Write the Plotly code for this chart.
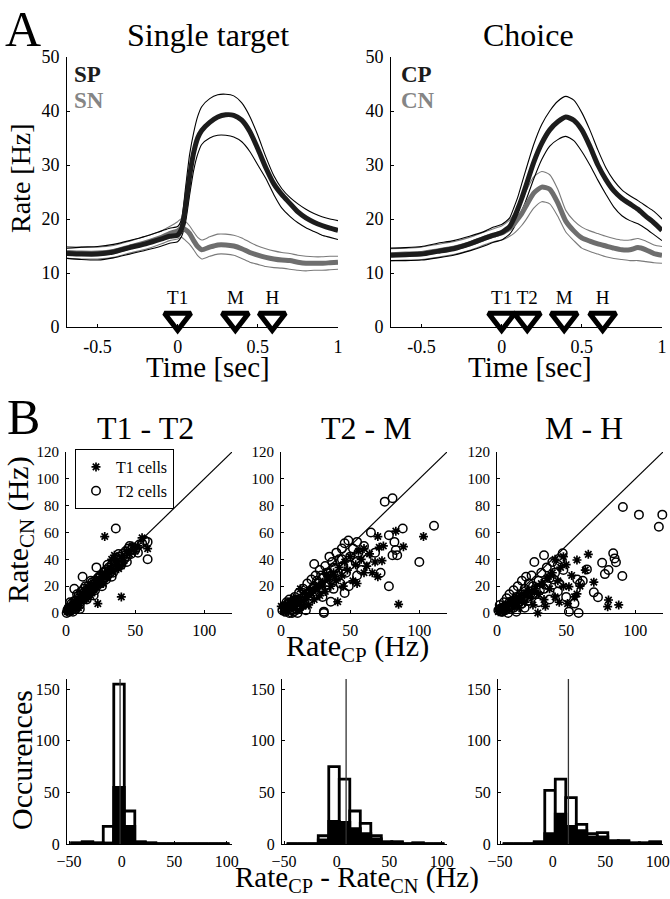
import plotly.graph_objects as go

W, H = 670, 899
FONT = "Liberation Serif"

# ---------------- Panel A data (rate in Hz vs time in s) ----------------
time_s = [-0.69, -0.6, -0.5, -0.4, -0.3, -0.2, -0.1, -0.05, 0.0, 0.025, 0.05, 0.075,
          0.1, 0.125, 0.15, 0.2, 0.25, 0.3, 0.35, 0.4, 0.45, 0.5, 0.55, 0.6, 0.65,
          0.7, 0.75, 0.8, 0.85, 0.9, 0.95, 1.0]

sp_mean = [13.6, 13.5, 13.5, 13.9, 14.7, 15.4, 16.3, 16.8, 17.0, 18.2, 22.5, 28.0,
           32.3, 35.0, 36.4, 37.9, 38.9, 39.3, 39.2, 38.3, 36.2, 33.0, 29.5, 26.5, 24.5,
           22.9, 21.3, 20.2, 19.4, 18.8, 18.3, 17.9]
sp_hi = [14.6, 14.8, 14.9, 15.3, 16.0, 16.8, 17.8, 18.3, 18.6, 20.0, 26.0, 32.0,
         36.0, 39.0, 40.8, 42.3, 43.0, 43.1, 42.8, 41.5, 39.0, 35.5, 31.5, 28.0, 25.6,
         24.0, 22.8, 21.8, 21.0, 20.4, 20.0, 19.7]
sp_lo = [12.7, 12.5, 12.4, 12.8, 13.5, 14.2, 15.0, 15.5, 15.8, 16.8, 19.5, 24.5,
         29.0, 32.0, 33.8, 35.0, 35.5, 35.5, 35.2, 34.3, 32.5, 30.0, 27.5, 24.5, 22.0,
         20.5, 19.3, 18.4, 17.7, 17.0, 16.6, 16.2]
sn_mean = [13.8, 13.7, 13.7, 14.0, 14.8, 15.6, 16.6, 17.3, 17.8, 18.3, 18.0, 17.3,
           16.0, 14.9, 14.3, 14.8, 15.2, 15.2, 15.0, 14.5, 13.8, 13.3, 12.9, 12.6, 12.4,
           12.3, 12.0, 11.8, 11.8, 11.8, 11.9, 12.0]
sn_hi = [14.9, 14.8, 14.8, 15.1, 15.9, 16.8, 17.8, 18.6, 19.5, 20.1, 19.5, 18.7,
         17.6, 16.6, 16.1, 16.7, 17.2, 17.2, 17.0, 16.5, 15.7, 15.0, 14.5, 14.1, 13.8,
         13.6, 13.3, 13.1, 13.0, 13.0, 13.1, 13.1]
sn_lo = [12.7, 12.6, 12.6, 12.9, 13.7, 14.4, 15.4, 16.0, 16.3, 16.6, 16.0, 15.3,
         14.3, 13.2, 12.6, 13.1, 13.5, 13.5, 13.3, 12.7, 12.0, 11.6, 11.2, 11.0, 10.9,
         10.7, 10.5, 10.4, 10.5, 10.5, 10.6, 10.7]

cp_mean = [13.3, 13.4, 13.5, 14.0, 14.5, 15.4, 16.5, 17.0, 17.5, 18.0, 18.6, 20.0,
           21.8, 23.8, 26.0, 30.5, 34.0, 36.5, 38.0, 38.9, 38.3, 36.5, 33.5, 30.0, 27.3,
           25.2, 23.8, 22.8, 21.8, 20.5, 19.3, 17.9]
cp_hi = [14.6, 14.7, 14.9, 15.5, 16.0, 16.8, 17.8, 18.5, 19.0, 19.5, 20.2, 22.0,
         24.0, 26.5, 29.0, 33.8, 37.5, 40.0, 41.8, 42.7, 42.0, 39.7, 36.5, 32.8, 29.5,
         27.1, 25.4, 24.3, 23.4, 22.4, 21.4, 20.0]
cp_lo = [12.3, 12.3, 12.4, 12.8, 13.3, 14.1, 15.1, 15.7, 16.1, 16.6, 17.2, 18.3,
         19.8, 21.5, 23.3, 27.4, 31.0, 33.5, 34.7, 35.3, 34.5, 32.5, 30.0, 27.2, 24.6,
         22.2, 20.6, 19.7, 19.1, 18.2, 17.1, 16.0]
cn_mean = [13.4, 13.5, 13.6, 14.1, 14.6, 15.4, 16.5, 17.0, 17.4, 17.8, 18.3, 19.0,
           20.0, 21.0, 22.3, 24.8, 25.9, 25.5, 23.0, 19.6, 17.8, 16.5, 15.9, 15.4, 15.0,
           14.6, 14.3, 14.3, 14.7, 14.3, 13.6, 13.3]
cn_hi = [14.5, 14.6, 14.8, 15.3, 15.8, 16.6, 17.7, 18.2, 18.7, 19.2, 19.8, 20.8,
         22.0, 23.3, 25.0, 27.8, 28.8, 28.2, 25.5, 21.6, 19.7, 18.5, 17.8, 17.3, 16.8,
         16.4, 16.1, 16.1, 16.4, 15.9, 15.2, 14.9]
cn_lo = [12.3, 12.4, 12.5, 12.9, 13.4, 14.2, 15.3, 15.8, 16.1, 16.4, 16.8, 17.3,
         18.0, 18.8, 19.8, 22.0, 23.2, 22.8, 20.5, 17.6, 16.0, 14.6, 14.0, 13.5, 13.0,
         12.7, 12.5, 12.3, 12.3, 12.1, 11.9, 11.8]

ev_single_labels = ["T1", "M", "H"]
ev_single_t = [0.0, 0.36, 0.59]
ev_choice_labels = ["T1", "T2", "M", "H"]
ev_choice_t = [0.0, 0.16, 0.39, 0.63]

# ---------------- Panel B scatter data (RateCP, RateCN) ----------------
t1t2_t2_x = [1, 2, 3, 4, 5, 6, 6, 7, 8, 9, 10, 11, 12, 12, 13, 14, 15, 16, 17, 18, 19, 20, 21, 22, 22,
             23, 24, 25, 26, 27, 28, 29, 30, 31, 32, 33, 34, 35, 36, 36, 37, 38, 39, 40, 41, 42, 43,
             44, 45, 46, 47, 48, 50, 52, 53, 55, 57, 59, 59, 3, 5, 8, 10, 14, 18, 20, 26, 30, 33, 38, 44,
             2, 4, 6, 9, 11, 13, 16, 19, 24, 28, 0.5, 1.5, 7, 10, 15, 21, 25, 29, 34, 40]
t1t2_t2_y = [2, 1, 4, 2, 6, 4, 18, 9, 5, 11, 8, 13, 10, 27, 15, 12, 17, 14, 19, 16, 21, 18, 24, 34, 20,
             26, 22, 28, 24, 30, 26, 32, 28, 34, 30, 36, 33, 38, 35, 63, 40, 36, 42, 38, 44, 40, 46,
             42, 48, 50, 44, 49, 47, 45, 51, 52, 54, 53, 40, 8, 1, 14, 3, 20, 24, 13, 20, 36, 27, 44, 38,
             4, 7, 9, 13, 16, 18, 20, 23, 27, 31, 0, 3, 3, 6, 10, 17, 22, 25, 30, 36]
t1t2_t1_x = [1, 2, 3, 4, 5, 6, 7, 8, 9, 10, 11, 12, 13, 14, 15, 16, 17, 18, 19, 20, 21, 22, 23, 24,
             25, 26, 28, 28, 30, 32, 34, 35, 36, 38, 40, 40, 42, 44, 46, 48, 50, 55, 59, 52, 27, 18,
             9, 15, 33, 40, 3, 6, 11, 14, 17, 20, 23, 26, 29, 31, 37]
t1t2_t1_y = [1, 3, 1, 5, 3, 7, 5, 9, 7, 12, 9, 14, 11, 16, 13, 18, 15, 20, 17, 22, 19, 25, 7, 22,
             27, 23, 57, 30, 27, 34, 31, 43, 38, 33, 12, 42, 39, 46, 44, 50, 46, 56, 48, 50, 22, 13,
             4, 10, 40, 35, 2, 5, 10, 13, 16, 18, 21, 25, 28, 30, 35]

t2m_t2_x = [1, 2, 3, 4, 5, 6, 7, 8, 9, 10, 11, 12, 13, 14, 15, 16, 17, 18, 19, 20, 21, 22, 23, 24, 24,
            25, 26, 27, 28, 29, 30, 31, 31, 32, 33, 34, 35, 36, 36, 37, 38, 39, 40, 41, 42, 43, 44,
            45, 46, 47, 48.7, 49, 50, 52, 54, 55, 56, 58, 60, 62, 65, 68, 72, 75, 78, 78, 80.6,
            80.6, 82, 83, 84, 88, 100, 110.6, 55, 46, 30, 18, 12, 6,
            3, 5, 8, 11, 14, 17, 20, 23, 26, 29, 33, 38, 44, 50, 9, 13, 16]
t2m_t2_y = [2, 5, 1, 8, 3, 10, 4, 0, 6, 12, 3, 8, 15, 5, 11, 18, 7, 14, 22, 9, 16, 25, 12, 36.5, 20,
            28, 14, 22, 32, 18, 26, 1, 0, 35, 21, 30, 42, 8.4, 25, 38, 18, 33, 45, 28, 40, 22, 48,
            35, 52, 30, 54, 20, 42, 48, 38, 53, 45, 32, 50, 40, 60, 45, 30, 83, 58, 20, 85.5,
            43, 53, 47, 43, 63, 38, 65, 28, 15, 12, 2, 0, 0,
            4, 7, 2, 10, 9, 12, 15, 18, 24, 28, 30, 34, 40, 36, 1, 4, 6]
t2m_t1_x = [0.2, 2, 3, 5, 7, 8, 10, 12, 14, 15, 16, 18, 20, 22, 24, 26, 28, 30, 32, 34, 36, 38, 40,
            41, 42, 44, 46, 48, 50, 52, 54, 56, 58, 60, 62, 64, 66, 68, 70, 70, 71, 73, 74, 83, 85,
            88.5, 103, 25, 35, 45, 55, 60, 20, 10, 30, 4, 6, 9, 13, 17, 21, 27, 33, 39]
t2m_t1_y = [5, 1, 6, 2, 9, 4, 7, 2, 18, 9, 5, 12, 6, 15, 10, 19, 13, 23, 16, 27, 20, 30, 24,
            8.4, 34, 28, 38, 32, 42, 24, 36, 46, 40, 30, 35, 44, 30, 38, 27, 57, 49, 39, 50, 61, 6.5,
            49.4, 57, 18, 25, 20, 22, 48, 14, 10, 20, 3, 8, 11, 8, 10, 17, 20, 29, 27]

mh_t2_x = [1, 2, 3, 4, 5, 6, 7, 8, 9, 10, 11, 12, 13, 14, 15, 16, 17, 18, 19, 20, 21, 22, 23, 24, 25,
           26, 27, 28, 30, 32, 34, 34, 36, 38, 40, 42, 44, 45, 46, 47.5, 48, 50, 52, 56, 58, 59,
           60, 62, 65, 70, 73, 76, 78, 80.6, 84, 85, 86, 90.6, 91, 102.6, 117, 119.5, 38, 44, 30,
           20, 14, 8, 2, 4, 6, 9, 12, 15, 18, 22, 26, 31, 36, 41]
mh_t2_y = [2, 6, 1, 4, 8, 2, 11, 5, 14, 3, 9, 17, 6, 12, 20, 8, 14, 24, 10, 18, 27, 12, 22, 16, 28,
           20, 38, 14, 24, 30, 43, 18, 34, 26, 38, 30, 36, 22, 40, 44.5, 32, 12, 1, 7, 25, 0,
           22, 24, 32.5, 15.4, 11.7, 37.5, 29, 32, 44.5, 40.7, 37.8, 27.6, 79, 73.3, 64.3, 73.3,
           10, 16, 8, 4, 1, 0, 3, 1, 5, 8, 4, 10, 7, 9, 14, 17, 21, 25]
mh_t1_x = [1, 3, 4, 6, 8, 10, 12, 14, 16, 18, 20, 22, 24, 26, 28, 29.5, 30, 32, 34, 36, 38, 40, 42,
           44, 46, 48, 50, 51, 52, 54, 56, 57.8, 57.8, 60, 63.8, 66, 70, 80, 80.6, 88, 35, 45, 25,
           15, 42, 48, 5, 9, 13, 17, 21, 27, 33, 39]
mh_t1_y = [1, 4, 1, 6, 3, 9, 5, 11, 4, 14, 8, 17, 12, 6, 20, 0, 14, 22, 10, 26, 18, 30, 12,
           24, 34, 20, 36, 7, 19.6, 28, 12, 39.5, 14.2, 20, 32, 43.7, 23, 4.7, 9.7, 6, 5, 8, 16,
           7, 40, 42, 2, 6, 8, 10, 13, 16, 21, 28]

# ---------------- Panel B histogram data (RateCP - RateCN) ----------------
hist_centers = [-42.5, -32.5, -22.5, -12.5, -2.5, 7.5, 17.5, 27.5, 37.5, 47.5, 57.5, 67.5,
                77.5, 87.5, 97.5]
h_t1t2_all = [1, 2, 1, 17, 155, 32, 2, 1, 0, 0, 0, 0, 0, 0, 0]
h_t1t2_t1 = [1, 2, 1, 1, 55, 17, 2, 1, 0, 0, 0, 0, 0, 0, 0]
h_t2m_all = [0, 0, 0, 8, 75, 63, 32, 20, 8, 2, 2, 0, 1, 0, 0]
h_t2m_t1 = [0, 0, 0, 4, 22, 21, 15, 10, 5, 2, 2, 0, 1, 0, 0]
h_mh_all = [0, 0, 0, 2, 52, 63, 45, 19, 10, 11, 3, 3, 1, 1, 2]
h_mh_t1 = [0, 0, 0, 2, 10, 29, 17, 13, 7, 7, 3, 3, 1, 1, 2]
hist_median = [-1.5, 9, 15]

scatter_titles = ["T1 - T2", "T2 - M", "M - H"]


# ---------------- helpers ----------------
def px(x):
    return x / W


def py(y):
    return 1 - y / H


def axis(domain, rng, tickvals, size, anchor, ticktext=None):
    d = dict(domain=domain, range=rng, tickvals=tickvals, showline=True, linecolor="black",
             linewidth=1, ticks="inside", ticklen=3, tickcolor="black", tickwidth=1,
             showgrid=False, zeroline=False, anchor=anchor, fixedrange=True,
             ticklabelstandoff=3, automargin=False,
             tickfont=dict(family=FONT, size=size, color="black"))
    if ticktext is not None:
        d["ticktext"] = ticktext
    return d


fig = go.Figure()

DARK = "#1c1c1c"
GRAY = "#6e6e6e"
LGRAY = "#7a7a7a"


def add_curves(xa, ya, pos_m, pos_h, pos_l, neg_m, neg_h, neg_l):
    common = dict(x=time_s, xaxis=xa, yaxis=ya, mode="lines", showlegend=False,
                  hoverinfo="skip")
    for v in (neg_h, neg_l):
        fig.add_trace(go.Scatter(y=v, line=dict(color=LGRAY, width=1.1, shape="spline",
                                                smoothing=0.6), **common))
    for v in (pos_h, pos_l):
        fig.add_trace(go.Scatter(y=v, line=dict(color="black", width=1.1, shape="spline",
                                                smoothing=0.6), **common))
    fig.add_trace(go.Scatter(y=neg_m, line=dict(color=GRAY, width=5, shape="spline",
                                                smoothing=0.6), **common))
    fig.add_trace(go.Scatter(y=pos_m, line=dict(color=DARK, width=5, shape="spline",
                                                smoothing=0.6), **common))


add_curves("x", "y", sp_mean, sp_hi, sp_lo, sn_mean, sn_hi, sn_lo)
add_curves("x2", "y2", cp_mean, cp_hi, cp_lo, cn_mean, cn_hi, cn_lo)

# event markers
for xa, ya, ts, labs in (("x", "y", ev_single_t, ev_single_labels),
                         ("x2", "y2", ev_choice_t, ev_choice_labels)):
    fig.add_trace(go.Scatter(x=ts, y=[1.5] * len(ts), xaxis=xa, yaxis=ya, mode="markers",
                             marker=dict(symbol="triangle-down", size=23, color="white",
                                         line=dict(color="black", width=5)),
                             cliponaxis=False, showlegend=False, hoverinfo="skip"))
    fig.add_trace(go.Scatter(x=ts, y=[5.1] * len(ts), xaxis=xa, yaxis=ya, mode="text",
                             text=labs, textfont=dict(family=FONT, size=19, color="black"),
                             cliponaxis=False, showlegend=False, hoverinfo="skip"))

# scatter panels
scat = [(t1t2_t1_x, t1t2_t1_y, t1t2_t2_x, t1t2_t2_y),
        (t2m_t1_x, t2m_t1_y, t2m_t2_x, t2m_t2_y),
        (mh_t1_x, mh_t1_y, mh_t2_x, mh_t2_y)]
for i, (ax1, ay1, ax2, ay2) in enumerate(scat):
    xa, ya = "x%d" % (i + 3), "y%d" % (i + 3)
    fig.add_trace(go.Scatter(x=[0, 120], y=[0, 120], xaxis=xa, yaxis=ya, mode="lines",
                             line=dict(color="black", width=1.2), showlegend=False,
                             hoverinfo="skip"))
    fig.add_trace(go.Scatter(x=ax2, y=ay2, xaxis=xa, yaxis=ya, mode="markers",
                             marker=dict(symbol="circle-open", size=8.5, color="black",
                                         line=dict(width=1.5, color="black")),
                             name="T2 cells", legendrank=2, showlegend=(i == 0),
                             cliponaxis=False, hoverinfo="skip"))
    fig.add_trace(go.Scatter(x=ax1, y=ay1, xaxis=xa, yaxis=ya, mode="markers",
                             marker=dict(symbol="asterisk-open", size=7.5, color="black",
                                         line=dict(width=1.7, color="black")),
                             name="T1 cells", legendrank=1, showlegend=(i == 0),
                             cliponaxis=False, hoverinfo="skip"))

# histograms
hists = [(h_t1t2_all, h_t1t2_t1), (h_t2m_all, h_t2m_t1), (h_mh_all, h_mh_t1)]
for i, (hall, ht1) in enumerate(hists):
    xa, ya = "x%d" % (i + 6), "y%d" % (i + 6)
    fig.add_trace(go.Bar(x=hist_centers, y=hall, width=10, xaxis=xa, yaxis=ya,
                         marker=dict(color="white", line=dict(color="black", width=2.8)),
                         showlegend=False, hoverinfo="skip"))
    fig.add_trace(go.Bar(x=hist_centers, y=ht1, width=10, xaxis=xa, yaxis=ya,
                         marker=dict(color="black", line=dict(color="black", width=2.8)),
                         showlegend=False, hoverinfo="skip"))
    edges = [hist_centers[0] - 5, hist_centers[-1] + 5]
    fig.add_trace(go.Scatter(x=edges, y=[0, 0], xaxis=xa, yaxis=ya, mode="lines",
                             line=dict(color="black", width=3), cliponaxis=False,
                             showlegend=False, hoverinfo="skip"))
    fig.add_trace(go.Scatter(x=[hist_median[i], hist_median[i]], y=[0, 160], xaxis=xa,
                             yaxis=ya, mode="lines", line=dict(color="#333333", width=1.3),
                             showlegend=False, hoverinfo="skip"))

# ---------------- layout ----------------
yA = [py(327), py(57)]
yS = [py(613), py(452)]
yH = [py(844), py(679)]
xA = [[px(67), px(338)], [px(391), px(662)]]
xS = [[px(66), px(232)], [px(281), px(447)], [px(497), px(663)]]
xH = [[px(67), px(232)], [px(282), px(447)], [px(498), px(663)]]

lay = dict(
    autosize=True, margin=dict(l=0, r=0, t=0, b=0, pad=0),
    paper_bgcolor="white", plot_bgcolor="white", barmode="overlay",
    font=dict(family=FONT, color="black"),
    showlegend=True,
    legend=dict(x=px(75), y=py(449), xanchor="left", yanchor="top",
                bordercolor="black", borderwidth=1, bgcolor="white",
                font=dict(family=FONT, size=16, color="black"),
                itemwidth=30, tracegroupgap=0, traceorder="normal"),
)
tA = [-0.5, 0, 0.5, 1]
tAt = ["-0.5", "0", "0.5", "1"]
for i in range(2):
    n = i + 1
    sx = "" if n == 1 else str(n)
    lay["xaxis" + sx] = axis(xA[i], [-0.69, 1.0], tA, 18, "y" + sx, tAt)
    lay["yaxis" + sx] = axis(yA, [0, 50], [0, 10, 20, 30, 40, 50], 18, "x" + sx)
for i in range(3):
    n = i + 3
    lay["xaxis%d" % n] = axis(xS[i], [0, 120], [0, 50, 100], 16, "y%d" % n)
    lay["yaxis%d" % n] = axis(yS, [0, 120], [0, 20, 40, 60, 80, 100, 120], 15, "x%d" % n)
for i in range(3):
    n = i + 6
    lay["xaxis%d" % n] = axis(xH[i], [-52, 105], [-50, 0, 50, 100], 16, "y%d" % n)
    lay["yaxis%d" % n] = axis(yH, [0, 160], [0, 50, 100, 150], 16, "x%d" % n)

ann = []


def text(x, y, s, size, angle=0, color="black", xanchor="center"):
    ann.append(dict(x=px(x), y=py(y), xref="paper", yref="paper", text=s, showarrow=False,
                    textangle=angle, xanchor=xanchor, yanchor="middle",
                    font=dict(family=FONT, size=size, color=color)))


text(23, 29, "A", 50)
text(23, 417, "B", 50)
text(208, 35, "Single target", 32)
text(528, 35, "Choice", 32)
text(20, 178, "Rate [Hz]", 28, -90)
text(208, 367, "Time [sec]", 29)
text(530, 367, "Time [sec]", 29)
text(72, 74, "<b>SP</b>", 23, color=DARK, xanchor="left")
text(72, 100, "<b>SN</b>", 23, color="#858585", xanchor="left")
text(399, 74, "<b>CP</b>", 23, color=DARK, xanchor="left")
text(399, 100, "<b>CN</b>", 23, color="#858585", xanchor="left")
for cx, t in zip([145, 366, 584], scatter_titles):
    text(cx, 428, t, 32)
text(20, 530, "Rate<sub>CN</sub> (Hz)", 30, -90)
text(357, 648, "Rate<sub>CP</sub> (Hz)", 30)
text(21, 760, "Occurences", 30, -90)
text(357, 879, "Rate<sub>CP</sub> - Rate<sub>CN</sub> (Hz)", 29)
lay["annotations"] = ann

fig.update_layout(**lay)
fig.write_html("out.html",
               config={"displayModeBar": False},
               default_width="670px;position:fixed;left:0;top:0",
               default_height="899px",
               post_script="document.body.style.margin='0';")
